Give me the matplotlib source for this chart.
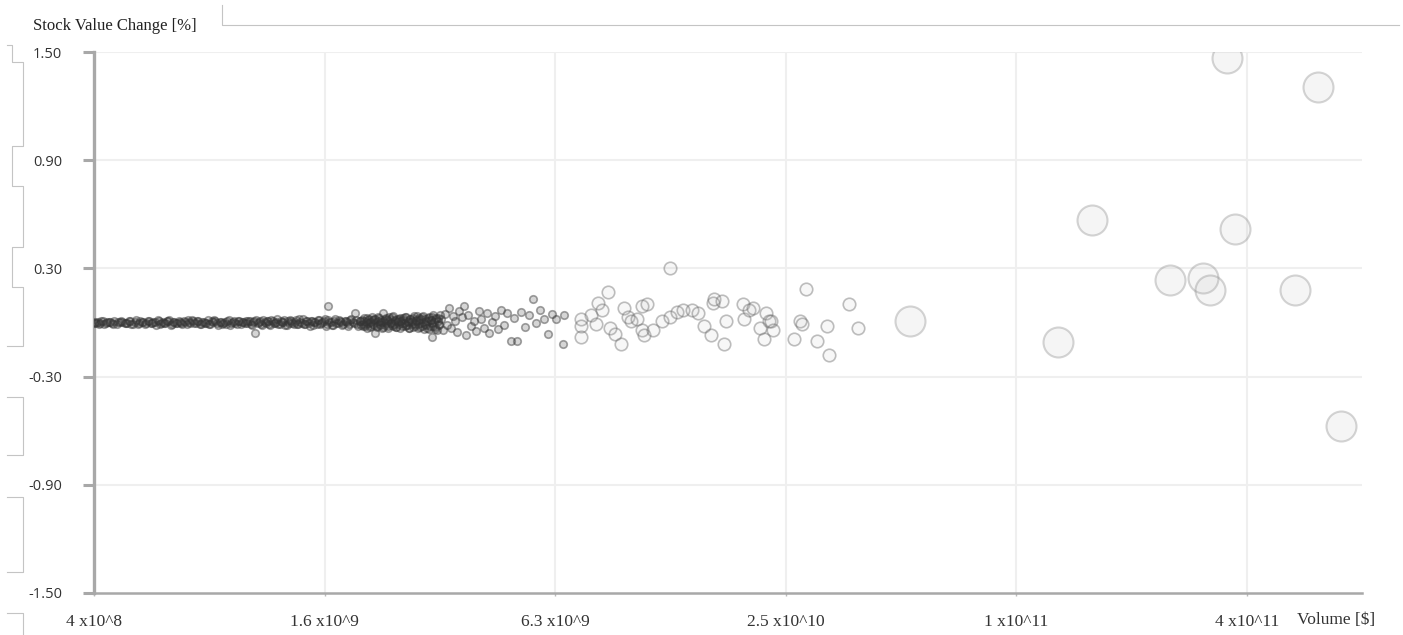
import numpy as np
import matplotlib.pyplot as plt
from matplotlib.lines import Line2D

# small stocks: volume [billion $], change [%]
small_vol = [
    0.400, 0.404, 0.409, 0.415, 0.421, 0.426, 0.433, 0.440, 0.446, 0.452,
    0.459, 0.467, 0.474, 0.481, 0.489, 0.497, 0.505, 0.512, 0.520, 0.529,
    0.537, 0.546, 0.554, 0.563, 0.572, 0.581, 0.590, 0.600, 0.609, 0.619,
    0.629, 0.639, 0.649, 0.660, 0.670, 0.681, 0.692, 0.703, 0.714, 0.726,
    0.737, 0.749, 0.761, 0.773, 0.786, 0.798, 0.811, 0.824, 0.837, 0.851,
    0.864, 0.878, 0.892, 0.907, 0.921, 0.936, 0.951, 0.966, 0.982, 0.998,
    1.012, 1.027, 1.041, 1.055, 1.060, 1.070, 1.085, 1.100, 1.116, 1.131,
    1.147, 1.163, 1.180, 1.196, 1.213, 1.230, 1.247, 1.265, 1.282, 1.300,
    1.318, 1.337, 1.356, 1.375, 1.394, 1.413, 1.433, 1.453, 1.474, 1.494,
    1.515, 1.537, 1.558, 1.580, 1.602, 1.625, 1.630, 1.648, 1.671, 1.694,
    1.718, 1.742, 1.767, 1.791, 1.817, 1.842, 1.868, 1.894, 1.921, 1.948,
    1.975, 1.990,
    2.005, 2.020, 2.034, 2.048, 2.062, 2.077, 2.091, 2.106, 2.121, 2.136,
    2.150, 2.165, 2.170, 2.181, 2.196, 2.211, 2.227, 2.242, 2.258, 2.274,
    2.280, 2.290, 2.306, 2.322, 2.338, 2.355, 2.371, 2.388, 2.405, 2.422,
    2.439, 2.456, 2.473, 2.491, 2.508, 2.526, 2.544, 2.562, 2.580, 2.598,
    2.617, 2.635, 2.654, 2.672, 2.691, 2.711, 2.730, 2.749, 2.769, 2.789,
    2.809, 2.829, 2.849, 2.869, 2.890, 2.910, 2.931, 2.952, 2.973, 2.994,
    3.015, 3.036, 3.050, 3.058, 3.080, 3.101, 3.123, 3.145, 3.168, 3.190,
    3.22, 3.26, 3.30, 3.34, 3.38, 3.42, 3.46, 3.50, 3.55, 3.60,
    3.65, 3.70, 3.75, 3.80, 3.86, 3.92, 3.98, 4.04, 4.10, 4.17,
    4.24, 4.31, 4.38, 4.45, 4.53, 4.61, 4.70, 4.80, 4.90, 5.00,
    5.10, 5.22, 5.35, 5.48, 5.60, 5.72, 5.85, 6.00, 6.15, 6.30,
    6.45, 6.70, 6.75,
    0.402, 0.412, 0.418, 0.430, 0.437, 0.449, 0.462, 0.471, 0.485, 0.493,
    0.501, 0.516, 0.525, 0.533, 0.542, 0.558, 0.567, 0.576, 0.586, 0.595,
    0.605, 0.614, 0.624, 0.634, 0.644, 0.655, 0.665, 0.676, 0.687, 0.698,
    0.709, 0.720, 0.732, 0.743, 0.755, 0.767, 0.780, 0.792, 0.805, 0.817,
    0.830, 0.844, 0.857, 0.871, 0.885, 0.900, 0.914, 0.929, 0.944, 0.959,
    0.974, 0.990,
    1.005, 1.020, 1.034, 1.048, 1.078, 1.093, 1.108, 1.124, 1.139, 1.155,
    1.171, 1.188, 1.205, 1.221, 1.238, 1.256, 1.273, 1.291, 1.309, 1.328,
    1.346, 1.365, 1.384, 1.404, 1.423, 1.443, 1.463, 1.484, 1.505, 1.526,
    1.547, 1.569, 1.591, 1.613, 1.637, 1.659, 1.683, 1.706, 1.730, 1.754,
    1.779, 1.804, 1.830, 1.855, 1.881, 1.908, 1.934, 1.962, 1.983,
    2.012, 2.027, 2.041, 2.055, 2.069, 2.084, 2.099, 2.113, 2.128, 2.143,
    2.158, 2.188, 2.204, 2.219, 2.234, 2.250, 2.266, 2.298, 2.314, 2.330,
    2.346, 2.363, 2.380, 2.396, 2.413, 2.430, 2.447, 2.465, 2.482, 2.500,
    2.517, 2.535, 2.553, 2.571, 2.589, 2.608, 2.626, 2.645, 2.663, 2.682,
    2.701, 2.720, 2.740, 2.759, 2.779, 2.799, 2.819, 2.839, 2.859, 2.879,
    2.900, 2.920, 2.941, 2.962, 2.984, 3.005, 3.026, 3.047, 3.069, 3.090,
    3.112, 3.134, 3.156, 3.179, 3.200,
]
small_chg = [
    0.000, -0.005, 0.004, -0.002, 0.006, -0.008, 0.003, 0.001, -0.004, 0.009,
    -0.010, 0.002, 0.005, -0.003, 0.000, 0.011, -0.006, 0.004, -0.009, 0.007,
    0.002, -0.004, 0.010, -0.001, 0.003, -0.012, 0.006, 0.000, -0.005, 0.008,
    0.012, -0.007, 0.002, -0.003, 0.005, -0.010, 0.001, 0.014, -0.004, 0.006,
    -0.002, 0.009, -0.011, 0.003, 0.000, -0.006, 0.007, 0.013, -0.003, 0.004,
    -0.008, 0.002, 0.010, -0.014, 0.005, -0.001, 0.008, -0.006, 0.003, 0.011,
    0.006, -0.009, 0.003, -0.060, 0.012, -0.004, 0.008, -0.013, 0.002, 0.010,
    -0.007, 0.015, -0.002, 0.004, -0.011, 0.009, 0.001, -0.016, 0.006, 0.013,
    -0.005, 0.003, -0.010, 0.017, 0.000, -0.008, 0.011, -0.003, 0.007, -0.014,
    0.005, 0.012, -0.006, 0.002, 0.018, -0.009, 0.094, 0.004, -0.012, 0.010,
    -0.004, 0.016, 0.001, -0.010, 0.007, -0.017, 0.013, 0.003, 0.055, -0.006,
    0.009, -0.013,
    0.014, -0.022, 0.008, -0.011, 0.026, -0.003, 0.019, -0.027, 0.005, 0.012,
    -0.016, 0.021, -0.060, 0.002, -0.019, 0.028, -0.008, 0.015, 0.004, -0.024,
    0.055, 0.010, -0.013, 0.024, -0.029, 0.006, 0.018, -0.005, 0.031, -0.017,
    0.009, -0.025, 0.020, 0.001, -0.011, 0.027, -0.021, 0.013, -0.002, 0.033,
    -0.014, 0.007, -0.030, 0.019, 0.004, -0.009, 0.025, -0.018, 0.011, 0.036,
    -0.006, 0.016, -0.026, 0.029, 0.002, -0.035, 0.021, -0.012, 0.008, 0.030,
    -0.020, 0.014, -0.078, 0.000, 0.039, -0.024, 0.017, -0.041, 0.026, -0.007,
    0.022, -0.041, 0.048, -0.015, 0.078, -0.030, 0.035, 0.006, -0.052, 0.061,
    0.028, 0.094, -0.067, 0.044, -0.020, 0.010, -0.046, 0.066, 0.018, -0.031,
    0.052, -0.058, 0.004, 0.038, -0.036, 0.072, -0.012, 0.050, -0.105, 0.026,
    -0.105, 0.060, -0.025, 0.040, 0.130, -0.004, 0.070, 0.022, -0.062, 0.046,
    0.018, -0.120, 0.040,
    0.003, -0.007, 0.008, -0.002, 0.005, -0.011, 0.001, 0.009, -0.004, 0.006,
    -0.008, 0.012, -0.001, 0.004, -0.006, 0.010, -0.003, 0.002, 0.013, -0.009,
    0.005, -0.002, 0.007, -0.012, 0.003, 0.000, 0.011, -0.005, 0.006, -0.008,
    0.002, 0.015, -0.004, 0.008, -0.010, 0.003, -0.001, 0.012, -0.007, 0.005,
    0.009, -0.013, 0.004, 0.000, -0.006, 0.014, -0.003, 0.007, -0.011, 0.010,
    0.001, -0.005,
    -0.004, 0.011, -0.013, 0.007, 0.002, -0.009, 0.015, -0.001, 0.006, -0.014,
    0.010, -0.003, 0.018, -0.008, 0.004, 0.012, -0.016, 0.000, 0.009, -0.006,
    0.014, -0.011, 0.003, 0.020, -0.007, 0.008, -0.018, 0.011, 0.002, -0.010,
    0.016, -0.005, 0.007, -0.019, 0.013, 0.001, -0.012, 0.019, -0.003, 0.008,
    -0.015, 0.010, 0.004, -0.008, 0.021, -0.002, 0.012, -0.020, 0.006,
    -0.010, 0.023, -0.018, 0.005, -0.028, 0.014, 0.001, -0.021, 0.030, -0.007,
    0.017, -0.025, 0.009, 0.026, -0.014, 0.003, -0.031, 0.020, -0.004, 0.012,
    -0.022, 0.028, 0.000, -0.015, 0.034, -0.009, 0.016, -0.027, 0.007, 0.022,
    -0.033, 0.011, -0.003, 0.025, -0.019, 0.031, -0.012, 0.004, -0.028, 0.018,
    0.009, -0.024, 0.035, -0.006, 0.015, -0.032, 0.027, -0.001, 0.020, -0.017,
    0.038, -0.011, 0.006, -0.029, 0.024, -0.038, 0.013, 0.032, -0.022, 0.003,
    -0.034, 0.027, 0.010, -0.016, 0.041,
]

# mid-size stocks
mid_vol = [
    8.8, 8.3, 8.5, 7.96, 7.5, 7.5, 7.5, 8.2, 8.9, 9.2,
    9.5, 9.7, 9.9, 10.1, 10.5, 10.8, 11.1, 10.8, 10.9, 11.5,
    12.2, 12.8, 12.8, 13.3, 13.8, 14.6, 15.1, 15.7, 16.3, 16.5,
    16.6, 17.5, 17.9, 17.7, 19.8, 19.9, 20.5, 21.0, 22.0, 22.7,
    22.5, 23.2, 23.5, 23.7, 29.0, 27.9, 28.3, 26.9, 30.9, 32.9,
    33.3, 37.5, 39.6,
]
mid_chg = [
    0.167, 0.106, 0.072, 0.044, 0.022, -0.022, -0.083, -0.006, -0.033, -0.061,
    -0.117, 0.083, 0.028, 0.006, 0.022, 0.094, 0.100, -0.044, -0.072, -0.039,
    0.006, 0.300, 0.028, 0.056, 0.072, 0.072, 0.050, -0.022, -0.072, 0.106,
    0.128, 0.117, 0.006, -0.117, 0.100, 0.022, 0.072, 0.078, -0.033, 0.050,
    -0.094, 0.011, 0.006, -0.039, 0.183, 0.006, -0.011, -0.089, -0.105, -0.022,
    -0.178, 0.100, -0.033,
]

# largest stocks
big_vol = [54.1, 131.8, 161.7, 258, 315, 329, 382, 363, 549, 630, 723]
big_chg = [0.011, -0.106, 0.567, 0.233, 0.244, 0.178, 0.517, 1.467, 0.178, 1.306, -0.572]

x_ticks = [4e8, 1.6e9, 6.4e9, 2.56e10, 1.024e11, 4.096e11]
x_labels = ['4 x10^8', '1.6 x10^9', '6.3 x10^9', '2.5 x10^10', '1 x10^11', '4 x10^11']
y_ticks = [-1.5, -0.9, -0.3, 0.3, 0.9, 1.5]
y_labels = ['-1.50', '-0.90', '-0.30', '0.30', '0.90', '1.50']

W, H = 1403, 635
fig = plt.figure(figsize=(W / 100, H / 100), dpi=100)
ax = fig.add_axes([94 / W, 1 - 593 / H, (1362 - 94) / W, (593 - 52) / H])

px = 0.72  # points per pixel


def bubbles(vol, chg, d, face, edge, lw):
    ax.scatter(np.array(vol) * 1e9, chg, s=(d * px) ** 2, facecolor=face,
               edgecolor=edge, linewidth=lw, zorder=3)


bubbles(small_vol, small_chg, 7.5, (0.25, 0.25, 0.25, 0.22), (0.2, 0.2, 0.2, 0.45), 1.2)
bubbles(mid_vol, mid_chg, 12.5, (0.7, 0.7, 0.7, 0.10), (0.4, 0.4, 0.4, 0.42), 1.2)
bubbles(big_vol, big_chg, 30, (0.72, 0.72, 0.72, 0.13), (0.5, 0.5, 0.5, 0.33), 1.5)

ax.set_xscale('log')
ax.set_xlim(4e8, 4e8 * 4 ** 5.5)
ax.set_ylim(-1.5, 1.5)

ax.set_xticks(x_ticks)
ax.set_xticklabels(x_labels, family='Liberation Serif', fontsize=12.5, color='#333333')
ax.xaxis.set_minor_locator(plt.NullLocator())
ax.set_yticks(y_ticks)
ax.set_yticklabels(y_labels, family='Open Sans', fontsize=10.5, color='#333333')
ax.tick_params(axis='x', length=2, width=1, color='#bbbbbb', pad=13)
ax.tick_params(axis='y', length=8, width=2.2, color='#a8a8a8', pad=15)

# grid
for t in y_ticks[1:]:
    ax.axhline(t, color='#efefef', lw=1.5, zorder=1)
for t in x_ticks[1:]:
    ax.axvline(t, color='#efefef', lw=1.5, zorder=1)

for s in ['top', 'right']:
    ax.spines[s].set_visible(False)
ax.spines['left'].set_color('#a8a8a8')
ax.spines['left'].set_linewidth(2.4)
ax.spines['bottom'].set_color('#a8a8a8')
ax.spines['bottom'].set_linewidth(1.8)

fig.text(33 / W, 1 - 26 / H, 'Stock Value Change [%]', family='Liberation Serif',
         fontsize=12, color='#222222', va='center', ha='left')
fig.text(1297 / W, 1 - 620 / H, 'Volume [$]', family='Liberation Serif',
         fontsize=12.5, color='#333333', va='center', ha='left')

# decorative frame lines
def fline(xs, ys):
    fig.add_artist(Line2D([x / W for x in xs], [1 - y / H for y in ys],
                          color='#c4c4c4', lw=0.8))


fline([222, 222, 1399], [5, 25, 25])
fline([7, 12, 12, 22.7, 22.7, 12, 12, 22.7, 22.7, 12, 12, 22.7, 22.7, 7],
      [45, 45, 62, 62, 146, 146, 186, 186, 247, 247, 287, 287, 346, 346])
fline([7, 22.7, 22.7, 7], [397, 397, 455, 455])
fline([7, 22.7, 22.7, 7], [497, 497, 572, 572])
fline([7, 22.7, 22.7], [613, 613, 640])

fig.savefig('out.png', dpi=100)
